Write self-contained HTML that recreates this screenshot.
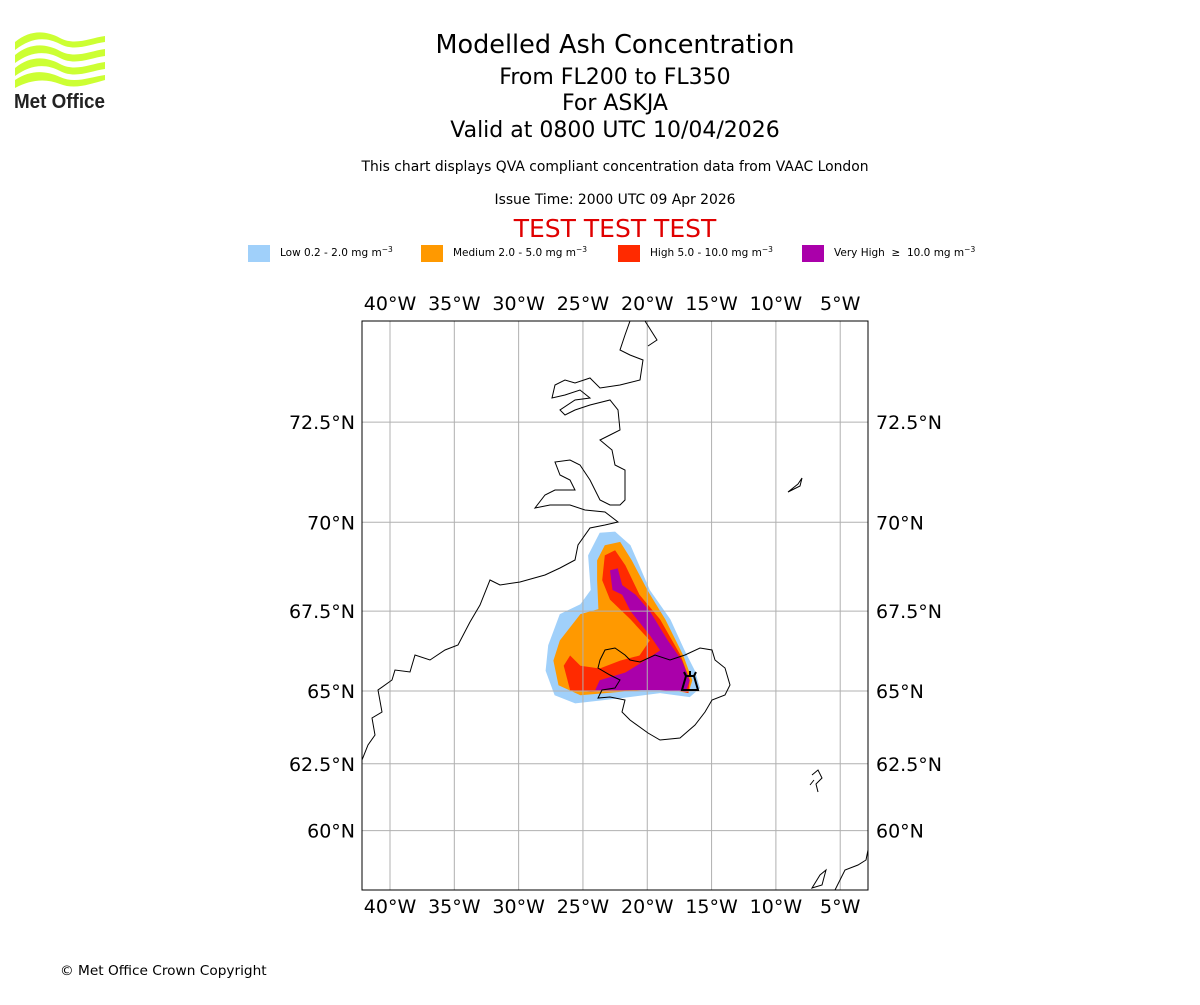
<!DOCTYPE html>
<html><head><meta charset="utf-8">
<style>
body{margin:0;background:#fff;}
svg text{font-family:"DejaVu Sans","Liberation Sans",sans-serif;}
</style></head>
<body>
<svg id="chart" width="1200" height="1000" viewBox="0 0 1200 1000" xmlns="http://www.w3.org/2000/svg">
<rect width="1200" height="1000" fill="#fff"/>
<g>
  <path d="M15,42 C30,30 45,30 60,38 C75,46 90,38 105,36 L105,42 C90,44 75,52 60,44 C45,36 30,38 15,50 Z" fill="#ccff33"/>
  <path d="M15,55 C30,43 45,43 60,51 C75,59 90,51 105,49 L105,56 C90,58 75,66 60,58 C45,50 30,52 15,63 Z" fill="#ccff33"/>
  <path d="M15,68 C30,56 45,56 60,64 C75,72 90,64 105,62 L105,69 C90,71 75,79 60,71 C45,63 30,65 15,76 Z" fill="#ccff33"/>
  <path d="M15,80 C30,70 45,70 60,77 C75,84 90,77 105,75 L105,80 C90,84 75,90 60,84 C45,78 30,80 15,88 Z" fill="#ccff33"/>
  <text x="14" y="108" font-size="20" font-weight="bold" fill="#222" textLength="91" lengthAdjust="spacingAndGlyphs" style="font-family:'Liberation Sans',sans-serif">Met Office</text>
</g>
<g text-anchor="middle">
  <text x="615" y="53" font-size="25.5">Modelled Ash Concentration</text>
  <text x="615" y="84" font-size="22">From FL200 to FL350</text>
  <text x="615" y="110" font-size="22">For ASKJA</text>
  <text x="615" y="137" font-size="22">Valid at 0800 UTC 10/04/2026</text>
  <text x="615" y="171" font-size="13.9">This chart displays QVA compliant concentration data from VAAC London</text>
  <text x="615" y="204" font-size="13.9">Issue Time: 2000 UTC 09 Apr 2026</text>
  <text x="615" y="237" font-size="25" fill="#e00000">TEST TEST TEST</text>
</g>
<g font-size="10.5">
  <rect x="248" y="245" width="22" height="17" fill="#a0d0fa"/>
  <text x="280" y="256">Low 0.2 - 2.0 mg m<tspan dy="-4" font-size="7.5">−3</tspan></text>
  <rect x="421" y="245" width="22" height="17" fill="#ff9900"/>
  <text x="453" y="256">Medium 2.0 - 5.0 mg m<tspan dy="-4" font-size="7.5">−3</tspan></text>
  <rect x="618" y="245" width="22" height="17" fill="#ff2a00"/>
  <text x="650" y="256">High 5.0 - 10.0 mg m<tspan dy="-4" font-size="7.5">−3</tspan></text>
  <rect x="802" y="245" width="22" height="17" fill="#aa00aa"/>
  <text x="834" y="256" xml:space="preserve">Very High  ≥  10.0 mg m<tspan dy="-4" font-size="7.5">−3</tspan></text>
</g>
<defs><clipPath id="mapclip"><rect x="362" y="321" width="506" height="569"/></clipPath></defs>
<g id="map" clip-path="url(#mapclip)"></g>
<g id="coast" clip-path="url(#mapclip)" fill="none" stroke="#000" stroke-width="1">
  <path d="M362,760 L368,745 L375,735 L372,718 L382,712 L378,690 L392,680 L395,670 L410,672 L415,655 L430,660 L445,650 L458,645 L470,622 L480,605 L490,580 L500,585 L520,582 L545,575 L560,568 L575,560 L578,545 L590,528 L605,525 L618,522 L605,512 L585,510 L570,505 L550,505 L535,508 L545,495 L555,490 L575,490 L570,480 L560,475 L555,462 L570,460 L580,465 L590,480 L600,500 L610,505 L620,505 L625,500 L625,470 L615,465 L612,450 L600,440 L610,435 L620,430 L618,410 L610,400 L590,405 L575,410 L565,415 L560,410 L575,400 L590,398 L580,390 L565,395 L552,398 L555,385 L565,380 L575,383 L590,378 L600,388 L620,385 L640,380 L643,360 L630,355 L620,350 L625,335 L630,321"/>
  <path d="M645,321 L657,340 L648,346"/>
  <path d="M600,660 L605,650 L615,648 L625,655 L630,660 L640,662 L655,655 L670,660 L685,655 L700,648 L712,650 L715,660 L725,668 L730,685 L725,695 L712,700 L705,712 L695,725 L680,738 L660,740 L648,733 L630,720 L622,712 L625,700 L610,697 L598,698 L602,690 L615,688 L620,680 L610,675 L598,668 Z"/>
  <path d="M788,492 L798,484 L802,478 L800,486 L792,490 Z"/>
  <path d="M812,775 L818,770 L822,778 L816,784 L818,792 M810,785 L814,780"/>
  <path d="M812,888 L820,875 L826,870 L822,885 Z M835,890 L845,870 L858,865 L866,860 L868,850"/>
  <path stroke-width="2" d="M682,690 L686,676 L694,676 L698,690 Z M686,676 L684,672 M694,676 L696,672 M690,676 L690,671"/>
</g>
<rect x="362" y="321" width="506" height="569" fill="none" stroke="#000" stroke-width="1"/>
<g id="ticks" font-size="19"></g>
<text x="60" y="975" font-size="13.7">© Met Office Crown Copyright</text>
</svg>
<script>
const lonTicks=[-40,-35,-30,-25,-20,-15,-10,-5];
const lonLabels=["40°W","35°W","30°W","25°W","20°W","15°W","10°W","5°W"];
const latTicks=[72.5,70,67.5,65,62.5,60];
const latLabels=["72.5°N","70°N","67.5°N","65°N","62.5°N","60°N"];
const lowLon=[-23.7,-22.5,-21.3,-19.8,-18.2,-17.1,-16.3,-15.9,-16.7,-19.0,-22.1,-25.6,-27.2,-27.9,-27.7,-26.8,-25.2,-24.4,-24.6];
const lowLat=[69.72,69.75,69.38,68.12,67.25,66.3,65.66,65.09,64.8,64.93,64.76,64.59,64.86,65.66,66.46,67.41,67.7,68.12,69.1];
const medLon=[-23.3,-22.1,-21.2,-19.9,-18.6,-17.2,-16.5,-16.8,-19.0,-22.1,-25.2,-26.9,-27.3,-26.8,-25.2,-23.8,-23.9,-23.9];
const medLat=[69.38,69.47,68.96,68.06,67.25,66.14,65.35,64.93,65.09,64.97,64.86,65.19,65.98,66.61,67.41,67.56,68.4,68.96];
const highLon=[-23.3,-22.5,-21.7,-20.6,-19.0,-17.4,-16.7,-16.8,-18.2,-21.3,-24.4,-26.0,-26.5,-26.0,-25.2,-23.7,-22.1,-20.6,-19.8,-21.3,-22.9,-23.5];
const highLat=[69.1,69.24,68.82,67.98,67.25,66.14,65.35,64.93,65.09,65.03,64.97,65.03,65.82,66.14,65.82,65.73,65.98,66.14,66.61,67.25,67.84,68.4];
const vhighLon=[-22.9,-22.3,-21.95,-20.9,-19.8,-18.4,-17.3,-16.7,-17.0,-19.0,-22.1,-24.05,-23.7,-21.7,-20.2,-19.0,-19.8,-21.3,-21.95,-22.7];
const vhighLat=[68.68,68.74,68.26,67.98,67.5,66.61,65.98,65.35,64.97,65.03,65.03,65.03,65.35,65.6,65.98,66.3,66.77,67.5,67.98,68.12];

const K=737, X0=390, Y65=691;
function merc(lat){const r=lat*Math.PI/180;return Math.log(Math.tan(Math.PI/4+r/2));}
function xOf(lon){return X0+(lon+40)*K*Math.PI/180;}
function yOf(lat){return Y65-K*(merc(lat)-merc(65));}
const NS='http://www.w3.org/2000/svg';
const map=document.getElementById('map'), ticks=document.getElementById('ticks');
function poly(lons,lats,fill,name){
  const p=document.createElementNS(NS,'polygon');
  p.setAttribute('points',lons.map((l,i)=>xOf(l).toFixed(1)+','+yOf(lats[i]).toFixed(1)).join(' '));
  p.setAttribute('fill',fill);
  
  
  map.appendChild(p);
}
poly(lowLon,lowLat,'#a0d0fa','ash-low');
poly(medLon,medLat,'#ff9900','ash-medium');
poly(highLon,highLat,'#ff2a00','ash-high');
poly(vhighLon,vhighLat,'#aa00aa','ash-very-high');
lonTicks.forEach((lon,i)=>{
  const x=xOf(lon);
  const l=document.createElementNS(NS,'line');
  l.setAttribute('x1',x);l.setAttribute('x2',x);l.setAttribute('y1',321);l.setAttribute('y2',890);
  l.setAttribute('stroke','#b0b0b0');
  
  
  map.appendChild(l);
  [310,913].forEach(y=>{
    const t=document.createElementNS(NS,'text');
    t.setAttribute('x',x);t.setAttribute('y',y);t.setAttribute('text-anchor','middle');
    t.textContent=lonLabels[i];
    
    
    ticks.appendChild(t);
  });
});
latTicks.forEach((lat,i)=>{
  const y=yOf(lat);
  const l=document.createElementNS(NS,'line');
  l.setAttribute('x1',362);l.setAttribute('x2',868);l.setAttribute('y1',y);l.setAttribute('y2',y);
  l.setAttribute('stroke','#b0b0b0');
  
  
  map.appendChild(l);
  [[355,'end'],[876,'start']].forEach(([x,a])=>{
    const t=document.createElementNS(NS,'text');
    t.setAttribute('x',x);t.setAttribute('y',y+7);t.setAttribute('text-anchor',a);
    t.textContent=latLabels[i];
    
    
    ticks.appendChild(t);
  });
});
</script>
</body></html>
